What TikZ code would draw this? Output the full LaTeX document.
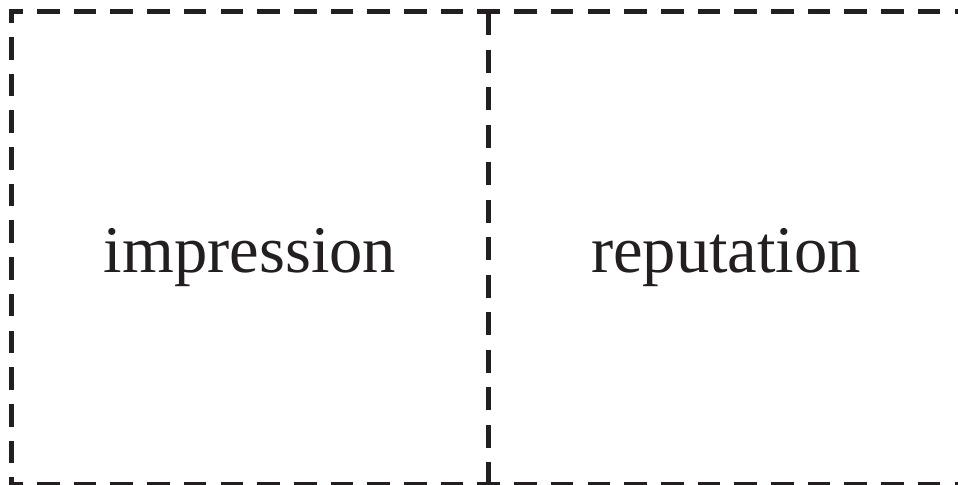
\documentclass[tikz,border=0pt]{standalone}
\usepackage{fontspec}
\setmainfont{Liberation Serif}
\definecolor{ink}{HTML}{231F20}
\tikzset{
  cell/.style={rectangle, minimum width=238pt, minimum height=236pt, inner sep=0pt},
  word/.style={anchor=base, text=ink, font=\fontsize{33.3}{40}\selectfont},
  frame/.style={draw=ink, line width=2.5pt, line cap=rect, dash pattern=on 8.8pt off 9.55pt, dash phase=4.4pt},
  divider/.style={frame, dash pattern=on 9pt off 9.75pt, dash phase=17.25pt}
}
\begin{document}
\begin{tikzpicture}[x=0.5pt,y=0.5pt]
\useasboundingbox (0,0) rectangle (958,485);
\node[cell] (left) at (250,237) {};
\node[cell] (right) at (726,237) {};
\node[word] (impression) at (250,212) {impression};
\node[word] (reputation) at (726,212) {reputation};
\path[frame] (left.north west) -- (right.north east);
\path[frame] (left.south west) -- (right.south east);
\path[frame] (left.north west) -- (left.south west);
\path[divider] (left.north east) -- (left.south east);
\path[frame] (right.north east) -- (right.south east);
\end{tikzpicture}
\end{document}
